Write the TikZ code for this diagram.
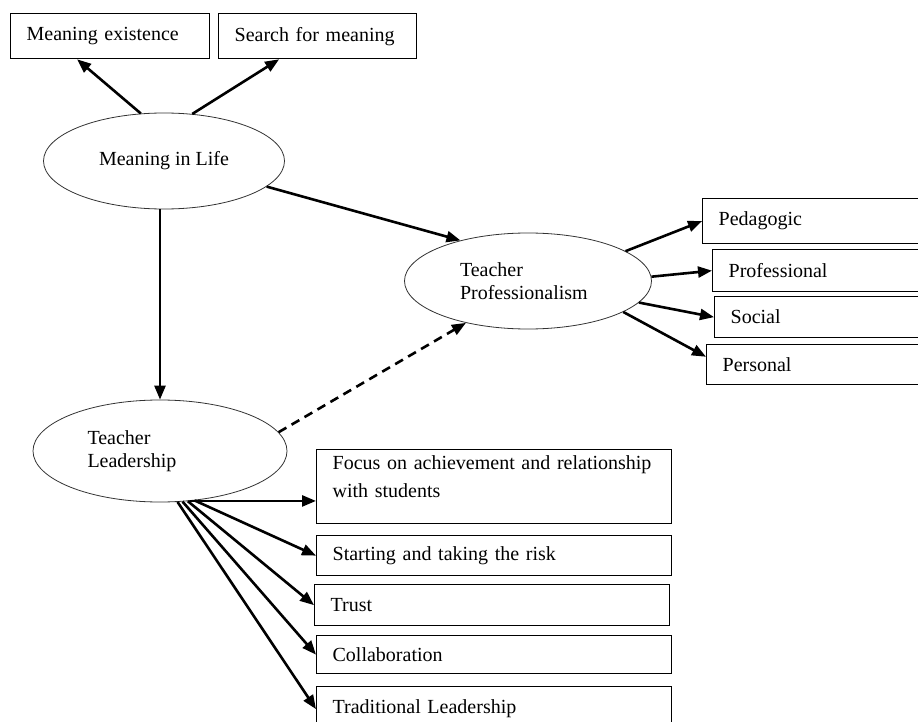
\documentclass[tikz,border=0pt]{standalone}
\usepackage{fontspec}
\setmainfont{Liberation Serif}
\usetikzlibrary{arrows.meta,shapes.geometric}
\begin{document}
\begin{tikzpicture}[x=1pt,y=-1pt,
  font=\fontsize{20}{23}\selectfont,
  box/.style={draw,line width=1.3pt,anchor=north west,inner xsep=16pt,inner ysep=0pt,align=left},
  oval/.style={draw=black!80,line width=0.8pt,ellipse,inner sep=0pt,align=left},
  arr/.style={line width=2.6pt,-{Triangle[length=14pt,width=11pt]}}]
\useasboundingbox (0,0) rectangle (918,722);
\node[oval,minimum width=241,minimum height=96] (mil) at (164,161) {Meaning in Life};
\node[oval,minimum width=247,minimum height=96,text width=136] (tp) at (528,281) {Teacher\\Professionalism};
\node[oval,minimum width=254,minimum height=102,text width=145] (tl) at (160,451) {Teacher\\Leadership};
\node[box,text width=167,minimum height=45] (exist) at (10,13) {Meaning existence};
\node[box,text width=166,minimum height=45] (search) at (218,13) {Search for meaning};
\node[box,text width=196,minimum height=45] (ped) at (702,198) {Pedagogic};
\node[box,text width=186,minimum height=42] (prof) at (712,249) {Professional};
\node[box,text width=184,minimum height=41] (soc) at (714,296) {Social};
\node[box,text width=192,minimum height=40] (pers) at (706,344) {Personal};
\node[box,text width=323,minimum height=74] (focus) at (316,449)
  {Focus on achievement and relationship\\[5pt]with students\\[-3pt]\mbox{}};
\node[box,text width=323,minimum height=40] (start) at (316,535) {Starting and taking the risk};
\node[box,text width=323,minimum height=41] (trust) at (314,584) {Trust};
\node[box,text width=323,minimum height=38] (collab) at (316,635) {Collaboration};
\node[box,text width=323,minimum height=45] (trad) at (316,686) {Traditional Leadership};
\draw[arr] (mil.116) -- (exist.215);
\draw[arr] (mil.59) -- (search.211);
\draw[arr] (mil.346) -- (tp.149);
\draw[arr] (tl.north |- mil.south) -- (tl.north);
\draw[arr,dash pattern=on 9pt off 6pt] (tl.9) -- (tp.214);
\draw[arr] (tp.17) -- (ped.west);
\draw[arr] (tp.2) -- (prof.west);
\draw[arr] (tp.349) -- (soc.west);
\draw[arr] (tp.342) -- (pers.176);
\draw[arr] (tl.301) -- (tl.301 -| focus.west);
\draw[arr] (tl.305) -- (start.west);
\draw[arr] (tl.299) -- (trust.west);
\draw[arr] (tl.294) -- (collab.west);
\draw[arr] (tl.289) -- (trad.west);
\end{tikzpicture}
\end{document}
